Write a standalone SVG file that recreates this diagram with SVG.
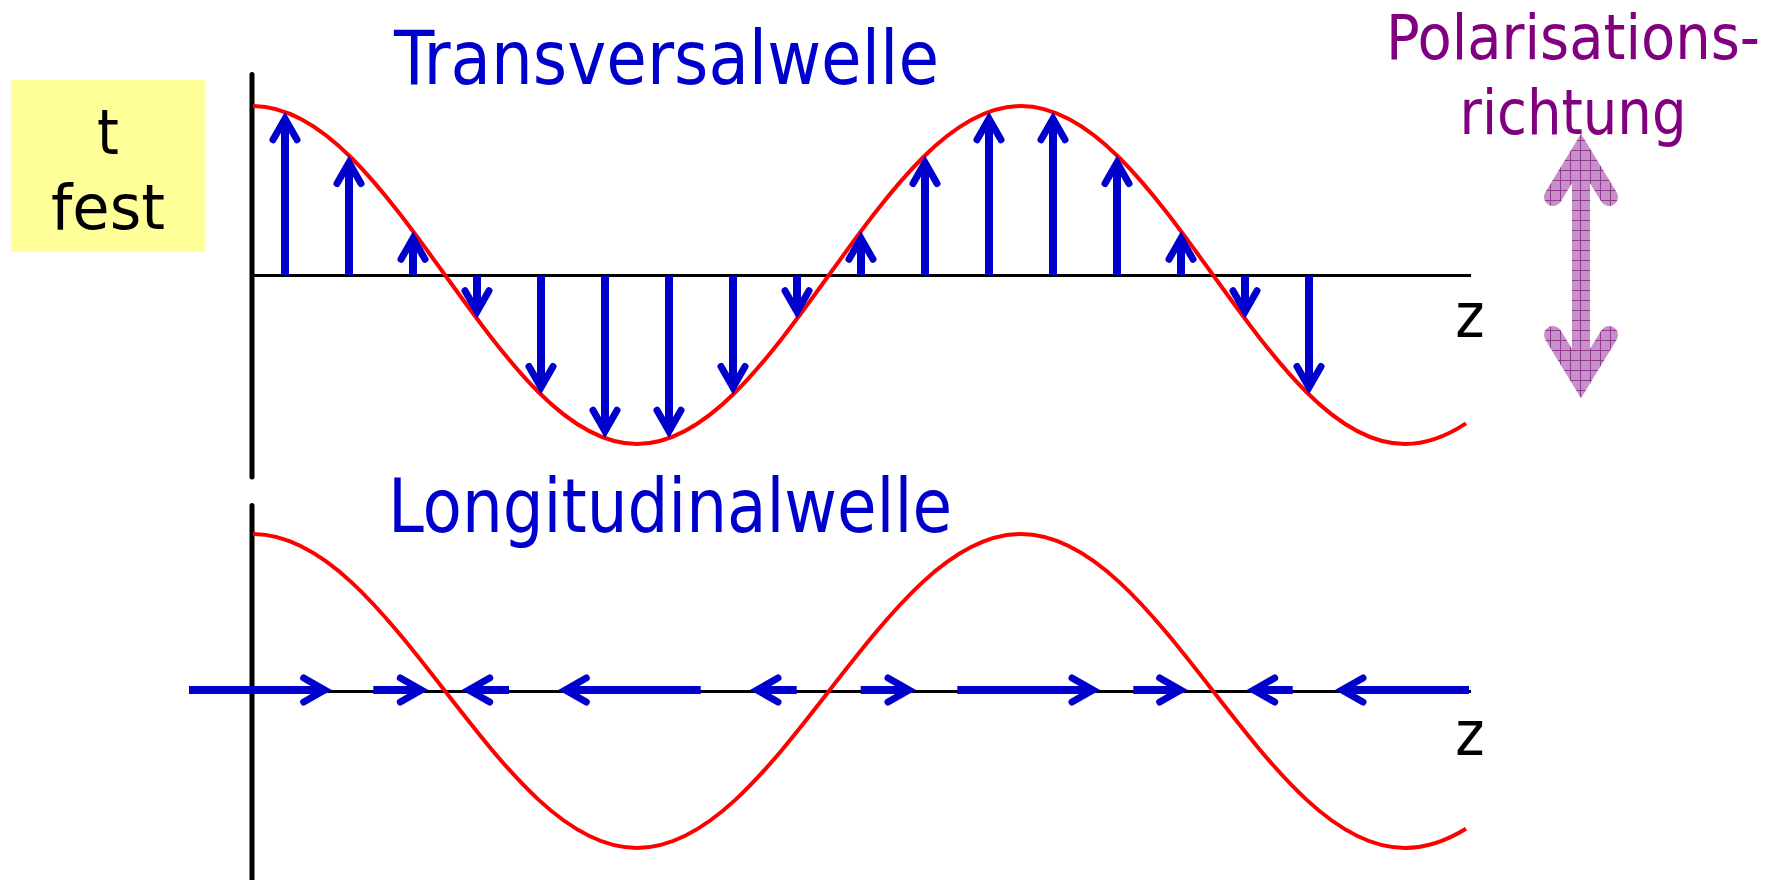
<svg xmlns="http://www.w3.org/2000/svg" width="1774" height="880" viewBox="0 0 1774 880">
<style>
.txt{font-family:'DejaVu Sans Condensed','DejaVu Sans',sans-serif;}
.blue{fill:#0000CC;}
.purple{fill:#800080;}
.blk{fill:#000000;}
.axis{stroke:#000;stroke-width:3;fill:none;}
.vaxis{stroke:#000;stroke-width:5;stroke-linecap:round;fill:none;}
.wave{stroke:#FF0000;stroke-width:4;fill:none;stroke-linejoin:round;}
.arr{stroke:#0000CC;stroke-width:8;fill:none;}
.pol{stroke:url(#hatch);stroke-width:18;fill:none;stroke-linecap:round;stroke-linejoin:miter;}
</style>
<defs>
<marker id="ah" markerUnits="userSpaceOnUse" orient="auto" overflow="visible" markerWidth="1" markerHeight="1" refX="0" refY="0">
<path d="M-21,-12 L0,0 L-21,12" fill="none" stroke="#0000CC" stroke-width="7" stroke-linecap="round" stroke-linejoin="miter"/>
</marker>
<pattern id="hatch" patternUnits="userSpaceOnUse" width="10" height="10">
<rect width="10" height="10" fill="#C890C8"/>
<path d="M0,0.5 H10 M0.5,0 V10" stroke="#8E3A8E" stroke-width="1"/>
</pattern>
</defs>

<g id="box-t-fest">
<rect x="11" y="80" width="194" height="172" fill="#FFFF99"/>
<text class="txt blk" x="108" y="154" font-size="62" text-anchor="middle">t</text>
<text class="txt blk" x="108" y="229" font-size="62" text-anchor="middle" textLength="114" lengthAdjust="spacingAndGlyphs">fest</text>
</g>

<g id="title-transversal">
<text class="txt blue" x="394" y="84" font-size="75" textLength="545" lengthAdjust="spacingAndGlyphs">Transversalwelle</text>
</g>

<g id="title-longitudinal">
<text class="txt blue" x="388" y="532" font-size="75" textLength="564" lengthAdjust="spacingAndGlyphs">Longitudinalwelle</text>
</g>

<g id="polarisation">
<text class="txt purple" x="1573" y="59" font-size="62" text-anchor="middle" textLength="374" lengthAdjust="spacingAndGlyphs">Polarisations-</text>
<text class="txt purple" x="1573" y="134" font-size="62" text-anchor="middle" textLength="227" lengthAdjust="spacingAndGlyphs">richtung</text>
<path class="pol" d="M1581,152 V380"/>
<path class="pol" d="M1553,197 L1581,151 L1609,197"/>
<path class="pol" d="M1553,335 L1581,381 L1609,335"/>
</g>

<g id="transversal-plot">
<line class="vaxis" x1="252" y1="74.5" x2="252" y2="477"/>
<line class="axis" x1="252" y1="275.5" x2="1471" y2="275.5"/>
<text class="txt blk" x="1470" y="337" font-size="62" text-anchor="middle">z</text>
<path class="wave" d="M253,106 C322.5,106 382.4,188.4 445,275 C507.6,361.6 567.5,444 637,444 C706.5,444 766.4,361.6 829,275 C891.6,188.4 951.5,106 1021,106 C1090.5,106 1150.4,188.4 1213,275 C1275.6,361.6 1335.5,444 1405,444 C1425.3,444 1445.7,436.8 1466,423.4"/>
</g>

<g id="longitudinal-plot">
<line class="vaxis" x1="252" y1="505.5" x2="252" y2="885"/>
<line class="axis" x1="252" y1="691.5" x2="1471" y2="691.5"/>
<text class="txt blk" x="1470" y="755" font-size="62" text-anchor="middle">z</text>
<path class="wave" d="M253,534 C322.5,534 382.4,610.6 445,691 C507.6,771.4 567.5,848 637,848 C706.5,848 766.4,771.4 829,691 C891.6,610.6 951.5,534 1021,534 C1090.5,534 1150.4,610.6 1213,691 C1275.6,771.4 1335.5,848 1405,848 C1425.3,848 1445.7,841.3 1466,828.8"/>
</g>

<g id="connectors">
<g id="transversal-arrows">
<line class="arr" x1="285" y1="275" x2="285" y2="118.8" marker-end="url(#ah)"/>
<line class="arr" x1="349" y1="275" x2="349" y2="162.5" marker-end="url(#ah)"/>
<line class="arr" x1="413" y1="275" x2="413" y2="238.3" marker-end="url(#ah)"/>
<line class="arr" x1="477" y1="276" x2="477" y2="311.7" marker-end="url(#ah)"/>
<line class="arr" x1="541" y1="276" x2="541" y2="387.5" marker-end="url(#ah)"/>
<line class="arr" x1="605" y1="276" x2="605" y2="431.2" marker-end="url(#ah)"/>
<line class="arr" x1="669" y1="276" x2="669" y2="431.2" marker-end="url(#ah)"/>
<line class="arr" x1="733" y1="276" x2="733" y2="387.5" marker-end="url(#ah)"/>
<line class="arr" x1="797" y1="276" x2="797" y2="311.7" marker-end="url(#ah)"/>
<line class="arr" x1="861" y1="275" x2="861" y2="238.3" marker-end="url(#ah)"/>
<line class="arr" x1="925" y1="275" x2="925" y2="162.5" marker-end="url(#ah)"/>
<line class="arr" x1="989" y1="275" x2="989" y2="118.8" marker-end="url(#ah)"/>
<line class="arr" x1="1053" y1="275" x2="1053" y2="118.8" marker-end="url(#ah)"/>
<line class="arr" x1="1117" y1="275" x2="1117" y2="162.5" marker-end="url(#ah)"/>
<line class="arr" x1="1181" y1="275" x2="1181" y2="238.3" marker-end="url(#ah)"/>
<line class="arr" x1="1245" y1="276" x2="1245" y2="311.7" marker-end="url(#ah)"/>
<line class="arr" x1="1309" y1="276" x2="1309" y2="387.5" marker-end="url(#ah)"/>
</g>
<g id="longitudinal-arrows">
<line class="arr" x1="189" y1="690" x2="324.7" y2="690" marker-end="url(#ah)"/>
<line class="arr" x1="373.3" y1="690" x2="421.3" y2="690" marker-end="url(#ah)"/>
<line class="arr" x1="509" y1="690" x2="468.7" y2="690" marker-end="url(#ah)"/>
<line class="arr" x1="700.7" y1="690" x2="565.3" y2="690" marker-end="url(#ah)"/>
<line class="arr" x1="796.7" y1="690" x2="757" y2="690" marker-end="url(#ah)"/>
<line class="arr" x1="860.7" y1="690" x2="909" y2="690" marker-end="url(#ah)"/>
<line class="arr" x1="957.3" y1="690" x2="1093" y2="690" marker-end="url(#ah)"/>
<line class="arr" x1="1133.3" y1="690" x2="1180.7" y2="690" marker-end="url(#ah)"/>
<line class="arr" x1="1292.7" y1="690" x2="1253.7" y2="690" marker-end="url(#ah)"/>
<line class="arr" x1="1469" y1="690" x2="1342" y2="690" marker-end="url(#ah)"/>
</g>
</g>
</svg>
